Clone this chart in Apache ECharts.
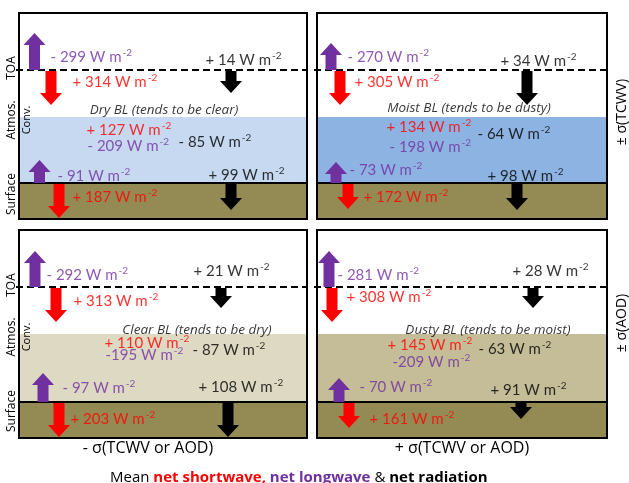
<!DOCTYPE html>
<html><head><meta charset="utf-8">
<script src="https://cdn.jsdelivr.net/npm/echarts@6/dist/echarts.min.js"></script>
<style>html,body{margin:0;padding:0;background:#fff}#c{width:629px;height:483px}</style>
</head><body><div id="c"></div>
<script>
// ---------------- DATA ----------------
const panelTitles = ['Dry BL (tends to be clear)', 'Moist BL (tends to be dusty)', 'Clear BL (tends to be dry)', 'Dusty BL (tends to be moist)'];
const toaLW  = [-299, -270, -292, -281];
const toaSW  = [314, 305, 313, 308];
const toaNet = [14, 34, 21, 28];
const atmSW  = [127, 134, 110, 145];
const atmLW  = [-209, -198, -195, -209];
const atmNet = [-85, -64, -87, -63];
const sfcLW  = [-91, -73, -97, -70];
const sfcSW  = [187, 172, 203, 161];
const sfcNet = [99, 98, 108, 91];
const layerNames = ['TOA', 'Atmos.', 'Conv.', 'Surface'];
const columnLabels = ['- σ(TCWV or AOD)', '+ σ(TCWV or AOD)'];
const rowLabels = ['± σ(TCWV)', '± σ(AOD)'];
const titleParts = ['Mean ', 'net shortwave,', ' net longwave', ' & ', 'net radiation'];
const unitText = 'W m';
const unitExp = '-2';

// ---------------- LAYOUT / STYLE ----------------
const FONT = 'Open Sans';
const VFONT = 'Lato';
const PURPLE = '#7030a0', RED = '#ff0000', BLACK = '#000000';
const SURFACE = '#948a54';
const PANELS = [
  {left: 19,  top: 13,  width: 288, height: 206, toa: 57, atmTop: 104, sfc: 170, atm: '#c6d9f1'},
  {left: 317, top: 13,  width: 290, height: 206, toa: 57, atmTop: 104, sfc: 170, atm: '#8db3e2'},
  {left: 19,  top: 230, width: 288, height: 208, toa: 57, atmTop: 104, sfc: 172, atm: '#ddd9c3'},
  {left: 317, top: 230, width: 290, height: 208, toa: 57, atmTop: 104, sfc: 172, atm: '#c4bd97'}
];
// arrows: [centre x, base y, tip y] in panel units
const ARROWS = [
  {toaLW: [15.5, 57, 20], toaSW: [32, 58, 92], toaNet: [212, 58, 80], sfcLW: [20.5, 170, 147], sfcSW: [40, 171, 205], sfcNet: [212, 171, 197]},
  {toaLW: [14, 57, 30],   toaSW: [23, 58, 92], toaNet: [210, 58, 92], sfcLW: [19, 170, 149],   sfcSW: [31, 171, 196], sfcNet: [200, 171, 197]},
  {toaLW: [16, 57, 21],   toaSW: [37, 58, 92], toaNet: [202, 58, 78], sfcLW: [24, 172, 143],   sfcSW: [40, 173, 207], sfcNet: [209, 173, 207]},
  {toaLW: [12, 57, 21],   toaSW: [15, 58, 92], toaNet: [216, 58, 78], sfcLW: [22, 172, 148],   sfcSW: [32, 173, 198], sfcNet: [204, 173, 189]}
];
// label anchors [x, y] in panel units
const LABELS = [
  {toaLW: [31, 44], toaSW: [53, 69], toaNet: [186, 47], title: [145, 97],  atmSW: [67, 117], atmLW: [68, 133], atmNet: [159, 129], sfcLW: [38, 163], sfcNet: [189, 162], sfcSW: [53, 184]},
  {toaLW: [30, 44], toaSW: [37, 69], toaNet: [183, 48], title: [152, 95],  atmSW: [69, 114], atmLW: [72, 134], atmNet: [160, 121], sfcLW: [32, 157], sfcNet: [170, 163], sfcSW: [46, 184]},
  {toaLW: [27, 45], toaSW: [54, 71], toaNet: [174, 41], title: [178, 100], atmSW: [85, 113], atmLW: [86, 125], atmNet: [173, 120], sfcLW: [43, 158], sfcNet: [179, 157], sfcSW: [51, 189]},
  {toaLW: [20, 45], toaSW: [29, 67], toaNet: [195, 41], title: [171, 100], atmSW: [70, 115], atmLW: [75, 132], atmNet: [161, 119], sfcLW: [42, 157], sfcNet: [173, 160], sfcSW: [52, 189]}
];
const TIGHT = {2: ['atmLW'], 3: ['atmLW']};

function fmt(v, tight) {
  return (v < 0 ? '-' : '+') + (tight ? '' : ' ') + Math.abs(v) + ' ' + unitText;
}
function tok(color, size, sup) {
  const o = {color: color, fontSize: size, fontFamily: VFONT, lineHeight: 18, textBorderWidth: 0};
  if (sup) { o.verticalAlign = 'top'; o.padding = [0, 0, 0, 1]; }
  return o;
}
const rich = {
  p: tok(PURPLE, 15), r: tok(RED, 15), k: tok(BLACK, 15),
  ps: tok(PURPLE, 10, true), rs: tok(RED, 10, true), ks: tok(BLACK, 10, true)
};
const ARROW_COLOR = {toaLW: PURPLE, toaSW: RED, toaNet: BLACK, sfcLW: PURPLE, sfcSW: RED, sfcNet: BLACK};
const VALUES = {toaLW, toaSW, toaNet, atmSW, atmLW, atmNet, sfcLW, sfcSW, sfcNet};
const TOKEN = {toaLW: 'p', toaSW: 'r', toaNet: 'k', atmSW: 'r', atmLW: 'p', atmNet: 'k', sfcLW: 'p', sfcSW: 'r', sfcNet: 'k'};

const grids = [], xAxes = [], yAxes = [], series = [];
PANELS.forEach((P, i) => {
  grids.push({left: P.left, top: P.top, width: P.width, height: P.height, show: false});
  xAxes.push({gridIndex: i, type: 'value', min: 0, max: P.width, show: false});
  yAxes.push({gridIndex: i, type: 'value', min: 0, max: P.height, inverse: true, show: false});
  const W = P.width, H = P.height;
  // layer fills
  series.push({
    type: 'custom', xAxisIndex: i, yAxisIndex: i, silent: true, z: 1, clip: false,
    data: [[P.atmTop, P.sfc, 0], [P.sfc, H, 1]],
    renderItem: (params, api) => {
      const a = api.coord([0, api.value(0)]), b = api.coord([W, api.value(1)]);
      return {type: 'rect', shape: {x: a[0], y: a[1], width: b[0] - a[0], height: b[1] - a[1]},
        style: {fill: api.value(2) === 0 ? P.atm : SURFACE}};
    }
  });
  // frame, surface line, TOA dashed line
  series.push({
    type: 'custom', xAxisIndex: i, yAxisIndex: i, silent: true, z: 3, clip: false,
    data: [[P.toa, P.sfc, H]],
    renderItem: (params, api) => {
      const t = api.coord([0, 0]), br = api.coord([W, H]);
      const toaL = api.coord([-3, api.value(0)]), toaR = api.coord([W, api.value(0)]);
      const sL = api.coord([0, api.value(1)]), sR = api.coord([W, api.value(1)]);
      return {type: 'group', children: [
        {type: 'line', shape: {x1: toaL[0], y1: toaL[1], x2: toaR[0], y2: toaR[1]}, style: {stroke: BLACK, lineWidth: 2, lineDash: [7, 4]}},
        {type: 'line', shape: {x1: sL[0], y1: sL[1], x2: sR[0], y2: sR[1]}, style: {stroke: BLACK, lineWidth: 2}},
        {type: 'rect', shape: {x: t[0], y: t[1], width: br[0] - t[0], height: br[1] - t[1]}, style: {fill: null, stroke: BLACK, lineWidth: 2}}
      ]};
    }
  });
  // arrows
  const keys = Object.keys(ARROWS[i]);
  series.push({
    type: 'custom', xAxisIndex: i, yAxisIndex: i, silent: true, z: 4, clip: false,
    data: keys.map(k => ({value: ARROWS[i][k], itemStyle: {color: ARROW_COLOR[k]}})),
    renderItem: (params, api) => {
      const a = api.coord([api.value(0), api.value(1)]), b = api.coord([api.value(0), api.value(2)]);
      const dir = b[1] > a[1] ? 1 : -1;
      const hw = 5.5, HW = 11, HL = 12, x = a[0];
      const neck = b[1] - dir * HL;
      return {type: 'polygon', shape: {points: [[x - hw, a[1]], [x + hw, a[1]], [x + hw, neck], [x + HW, neck], [x, b[1]], [x - HW, neck], [x - hw, neck]]},
        style: {fill: api.visual('color')}};
    }
  });
  // value labels
  const lab = LABELS[i];
  const data = Object.keys(VALUES).map(k => {
    const tight = (TIGHT[i] || []).indexOf(k) >= 0;
    const t = TOKEN[k];
    return {value: lab[k], label: {formatter: '{' + t + '|' + fmt(VALUES[k][i], tight) + '}{' + t + 's|' + unitExp + '}'}};
  });
  data.push({value: lab.title, label: {position: 'inside', formatter: panelTitles[i], fontStyle: 'italic', fontSize: 13.5, color: BLACK, fontFamily: FONT, textBorderWidth: 0}});
  series.push({
    type: 'scatter', xAxisIndex: i, yAxisIndex: i, silent: true, z: 5, symbol: 'circle', symbolSize: 1, clip: false,
    itemStyle: {color: 'rgba(0,0,0,0)'},
    label: {show: true, position: 'right', distance: 0, rich: rich, textBorderWidth: 0},
    labelLayout: {hideOverlap: false},
    data: data
  });
});

// outer annotation texts
const graphic = [];
function vtext(x, y, text, size) {
  graphic.push({type: 'text', x: x, y: y, rotation: Math.PI / 2, z: 100,
    style: {text: text, fontFamily: FONT, fontSize: size, fill: BLACK, align: 'center', verticalAlign: 'middle'}});
}
[0, 1].forEach(r => {
  const P = PANELS[r * 2];
  vtext(12, P.top + 55, layerNames[0], 12);
  vtext(12, P.top + 107, layerNames[1], 12);
  vtext(27, P.top + 107, layerNames[2], 11);
  vtext(12, P.top + 181, layerNames[3], 12);
});
vtext(622, 112, rowLabels[0], 14);
vtext(622, 323, rowLabels[1], 14);
graphic.push({type: 'text', x: 148, y: 448, z: 100, style: {text: columnLabels[0], fontFamily: FONT, fontSize: 16, fill: BLACK, align: 'center', verticalAlign: 'middle'}});
graphic.push({type: 'text', x: 462, y: 448, z: 100, style: {text: columnLabels[1], fontFamily: FONT, fontSize: 16, fill: BLACK, align: 'center', verticalAlign: 'middle'}});

const chart = echarts.init(document.getElementById('c'), null, {renderer: 'canvas'});
chart.setOption({
  animation: false,
  backgroundColor: '#ffffff',
  title: {
    left: 105, top: 465,
    text: '{n|' + titleParts[0] + '}{r|' + titleParts[1] + '}{p|' + titleParts[2] + '}{n|' + titleParts[3] + '}{b|' + titleParts[4] + '}',
    textStyle: {rich: {
      n: {fontFamily: FONT, fontSize: 15, color: BLACK, fontWeight: 'normal'},
      r: {fontFamily: FONT, fontSize: 15, color: RED, fontWeight: 'bold'},
      p: {fontFamily: FONT, fontSize: 15, color: PURPLE, fontWeight: 'bold'},
      b: {fontFamily: FONT, fontSize: 15, color: BLACK, fontWeight: 'bold'}
    }}
  },
  grid: grids, xAxis: xAxes, yAxis: yAxes, series: series, graphic: graphic
});
</script></body></html>
